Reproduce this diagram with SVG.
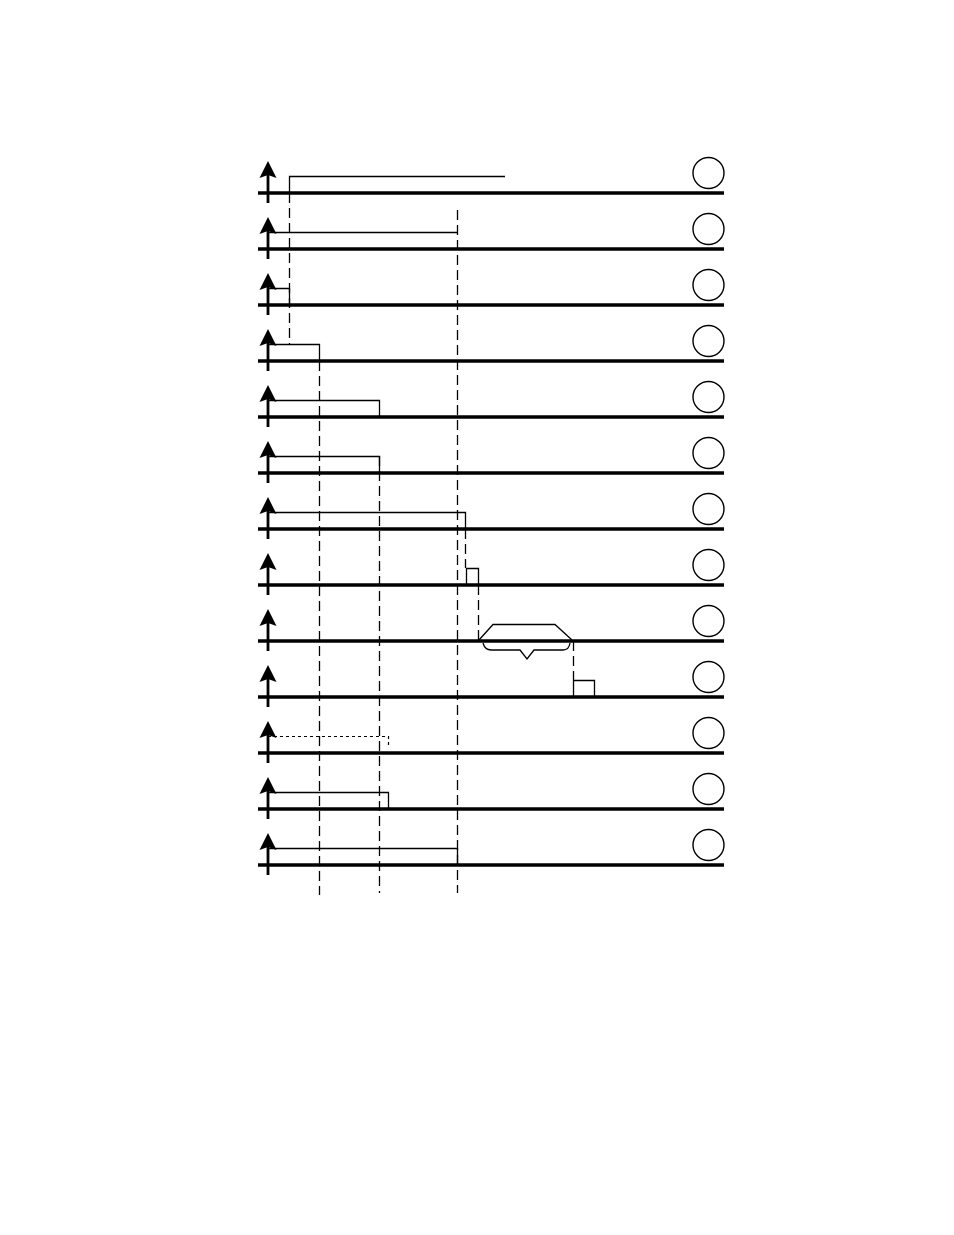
<svg xmlns="http://www.w3.org/2000/svg" width="954" height="1235" viewBox="0 0 954 1235">
<defs>
<style>
.base{stroke:#000;stroke-width:3.5;fill:none}
.axis{stroke:#000;stroke-width:2.8;fill:none}
.sig{stroke:#000;stroke-width:1.3;fill:none}
.dash{stroke:#000;stroke-width:1.3;fill:none;stroke-dasharray:10,5}
.dot{stroke:#000;stroke-width:1.2;fill:none;stroke-dasharray:3,3}
.circ{stroke:#000;stroke-width:1.4;fill:#fff}
.head{fill:#000}
</style>
<g id="axisRow">
<line class="base" x1="258" y1="0" x2="724" y2="0"/>
<line class="axis" x1="268" y1="-25" x2="268" y2="10"/>
<path class="head" d="M268,-32 L276.5,-15 L268,-18 L259.5,-15 Z"/>
<circle class="circ" cx="708.5" cy="-20" r="15.5"/>
</g>
</defs>
<rect width="954" height="1235" fill="#fff"/>
<g id="row1"><use href="#axisRow" y="193"/></g>
<g id="row2"><use href="#axisRow" y="249"/></g>
<g id="row3"><use href="#axisRow" y="305"/></g>
<g id="row4"><use href="#axisRow" y="361"/></g>
<g id="row5"><use href="#axisRow" y="417"/></g>
<g id="row6"><use href="#axisRow" y="473"/></g>
<g id="row7"><use href="#axisRow" y="529"/></g>
<g id="row8"><use href="#axisRow" y="585"/></g>
<g id="row9"><use href="#axisRow" y="641"/></g>
<g id="row10"><use href="#axisRow" y="697"/></g>
<g id="row11"><use href="#axisRow" y="753"/></g>
<g id="row12"><use href="#axisRow" y="809"/></g>
<g id="row13"><use href="#axisRow" y="865"/></g>
<g id="signals">
<polyline class="sig" points="289.5,193 289.5,176.5 505,176.5"/>
<polyline class="sig" points="268,232.5 457.5,232.5"/>
<polyline class="sig" points="268,288.5 289.5,288.5 289.5,305"/>
<polyline class="sig" points="268,344.5 319.5,344.5 319.5,361"/>
<polyline class="sig" points="268,400.5 379.5,400.5 379.5,417"/>
<polyline class="sig" points="268,456.5 379.5,456.5 379.5,473"/>
<polyline class="sig" points="268,512.5 465.5,512.5 465.5,529"/>
<polyline class="sig" points="466.5,585 466.5,568.5 478.5,568.5 478.5,585"/>
<polyline class="sig" points="479,640 493,624.5 555,624.5 572,640"/>
<path class="sig" d="M483,643 Q485,650 491,650 L520,650 L527,659 L534,650 L563,650 Q569,650 570,643"/>
<polyline class="sig" points="573.5,697 573.5,680.5 594.5,680.5 594.5,697"/>
<polyline class="dot" points="268,736.5 388.5,736.5 388.5,746"/>
<polyline class="sig" points="268,792.5 388.5,792.5 388.5,809"/>
<polyline class="sig" points="268,848.5 457.5,848.5 457.5,865"/>
</g>
<g id="connectors">
<line class="dash" x1="289.5" y1="193" x2="289.5" y2="344"/>
<line class="dash" x1="457.5" y1="210" x2="457.5" y2="893"/>
<line class="dash" x1="319.5" y1="361" x2="319.5" y2="895"/>
<line class="dash" x1="379.5" y1="456" x2="379.5" y2="893"/>
<line class="dash" x1="465.5" y1="529" x2="465.5" y2="568"/>
<line class="dash" x1="478.5" y1="585" x2="478.5" y2="640"/>
<line class="dash" x1="573.5" y1="641" x2="573.5" y2="680"/>
</g>
</svg>
